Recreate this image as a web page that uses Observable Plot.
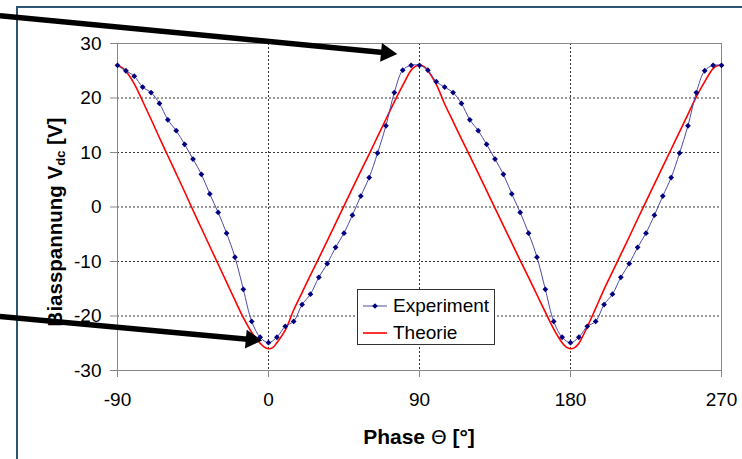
<!DOCTYPE html>
<html><head><meta charset="utf-8">
<script src="https://cdn.jsdelivr.net/npm/d3@7"></script>
<script src="https://cdn.jsdelivr.net/npm/@observablehq/plot@0.6"></script>
<style>
body{margin:0;background:#fff;font-family:"Liberation Sans",Arial,sans-serif}
#wrap{position:relative;width:742px;height:459px;overflow:hidden;background:#fff}
#border{position:absolute;left:16px;top:6px;width:900px;height:600px;border-left:2px solid #2b5572;border-top:2px solid #2b5572}
#chart{position:absolute;left:0;top:0}
#ylab{position:absolute;left:55px;top:222px;transform:translate(-50%,-50%) rotate(-90deg);white-space:nowrap;font-weight:bold;font-size:20.5px;color:#000}
#ylab sub{font-size:13px;vertical-align:-3px;font-weight:bold}
#xlab{position:absolute;left:419px;top:425px;transform:translateX(-50%);white-space:nowrap;font-weight:bold;font-size:21px;color:#000}
#xlab .th{font-weight:normal;font-family:"DejaVu Sans",sans-serif;font-size:20px}
#legend{position:absolute;left:357px;top:289px;width:138px;height:56px;border:1px solid #333;background:#fff;box-sizing:border-box;font-size:19px}
#legend .row{position:absolute;left:5px;height:22px;display:flex;align-items:center}
#legend svg{margin-right:6px}
</style>
</head><body>
<div id="wrap">
  <div id="border"></div>
  <div id="chart"></div>
  <div id="ylab">Biasspannung V<sub>dc</sub> [V]</div>
  <div id="xlab">Phase <span class="th">Θ</span> [°]</div>
  <div id="legend"></div>
</div>
<script>
// ---- data ----
const expPhase = [-90,-85,-80,-75,-70,-65,-60,-55,-50,-45,-40,-35,-30,-25,-20,-15,-10,-5,0,
  5,10,15,20,25,30,35,40,45,50,55,60,65,70,75,80,85,90,
  95,100,105,110,115,120,125,130,135,140,145,150,155,160,165,170,175,180,
  185,190,195,200,205,210,215,220,225,230,235,240,245,250,255,260,265,270];
const expV = [26.0,25.0,24.0,22.0,21.0,19.0,16.0,14.0,11.5,8.8,6.0,2.4,-1.0,-4.8,-9.2,-15.1,-21.0,-23.9,-24.9,
  -23.9,-21.9,-21.0,-17.9,-16.0,-12.9,-10.4,-7.4,-4.8,-1.5,2.0,5.4,9.9,14.9,21.0,25.1,26.0,26.0,
  25.1,23.0,22.0,21.0,19.0,16.0,14.0,11.5,8.8,6.0,2.4,-1.0,-4.8,-9.2,-15.1,-21.0,-23.9,-24.9,
  -23.9,-21.9,-21.0,-17.9,-16.0,-12.9,-10.4,-7.4,-4.8,-1.5,2.0,5.4,9.9,14.9,21.0,25.0,26.0,26.0];

const thPhase = [-90,-87.5,-85,-80,-75,-70,-65,-60,-55,-50,-45,-40,-35,-30,-25,-20,-15,-10,-5,-2.5,0,
  2.5,5,10,15,20,25,30,35,40,45,50,55,60,65,70,75,80,85,87.5,90,
  92.5,95,100,105,110,115,120,125,130,135,140,145,150,155,160,165,170,175,177.5,180,
  182.5,185,190,195,200,205,210,215,220,225,230,235,240,245,250,255,260,265,267.5,270];
const thV = [26.0,25.6,24.9,22.6,19.4,16.1,12.7,9.4,6.1,2.8,-0.6,-3.9,-7.2,-10.5,-13.8,-17.1,-20.3,-23.0,-25.0,-25.7,-26.0,
  -25.8,-24.9,-22.6,-18.9,-15.7,-12.5,-9.4,-6.2,-3.0,0.2,3.4,6.6,9.7,12.9,16.1,19.3,22.3,25.1,25.8,26.0,
  25.8,25.0,22.5,18.9,15.7,12.5,9.4,6.2,3.0,-0.2,-3.4,-6.6,-9.8,-12.9,-16.1,-19.3,-22.4,-24.9,-25.7,-26.0,
  -25.8,-25.0,-22.0,-18.6,-15.1,-11.9,-8.7,-5.5,-2.2,1.0,4.2,7.4,10.6,13.8,17.0,20.2,23.0,25.4,25.9,26.0];

const xTicks = [-90,0,90,180,270];
const yTicks = [-30,-20,-10,0,10,20,30];
const xGridAt = [0,90,180];
const yGridAt = [-20,-10,0,10,20];

// annotation arrows (data coordinates: start -> tip)
const arrowX1 = [-160.1,-160.1];
const arrowY1 = [35.1,-20.1];
const arrowX2 = [76.8,-3.8];
const arrowY2 = [28.1,-24.5];

const seriesNames = ["Experiment","Theorie"];

// ---- tables ----
const exp = expPhase.map((p,i)=>({p, v: expV[i]}));
const th = thPhase.map((p,i)=>({p, v: thV[i]}));
const arrows = arrowX1.map((x1,i)=>({x1, y1: arrowY1[i], x2: arrowX2[i], y2: arrowY2[i]}));

const blue = "#4b4ba8", navy = "#000080", red = "#ff0000";

const chart = Plot.plot({
  width: 742, height: 459,
  marginLeft: 117, marginRight: 21, marginTop: 43, marginBottom: 89,
  style: {background: "transparent", fontFamily: "'Liberation Sans', Arial, sans-serif", fontSize: "19px", color: "#000"},
  x: {domain: [-90, 270]},
  y: {domain: [-30, 30]},
  marks: [
    Plot.gridX(xGridAt, {stroke: "#000", strokeOpacity: 0.8, strokeDasharray: "2,2"}),
    Plot.gridY(yGridAt, {stroke: "#000", strokeOpacity: 0.8, strokeDasharray: "2,2"}),
    Plot.frame({stroke: "#888"}),
    Plot.axisX({ticks: xTicks, tickSize: 7, tickPadding: 15, label: null, stroke: "#888", fill: "#000", tickFormat: d => String(d)}),
    Plot.axisY({ticks: yTicks, tickSize: 7, tickPadding: 9, label: null, stroke: "#888", fill: "#000", tickFormat: d => String(d)}),
    Plot.line(th, {x: "p", y: "v", stroke: red, strokeWidth: 1.6, curve: "catmull-rom"}),
    Plot.line(exp, {x: "p", y: "v", stroke: blue, strokeWidth: 1, curve: "catmull-rom"}),
    Plot.dot(exp, {x: "p", y: "v", symbol: "diamond2", r: 2.6, fill: navy, stroke: "none"}),
    Plot.arrow(arrows, {x1: "x1", y1: "y1", x2: "x2", y2: "y2", stroke: "#000", strokeWidth: 5.5, headLength: 0, insetEnd: 9, strokeLinecap: "butt"}),
    Plot.dot(arrows, {x: "x2", y: "y2", symbol: "triangle", r: 7, fill: "#000", stroke: "none", rotate: 95.4, dx: -10.9, dy: -1})
  ]
});
document.getElementById("chart").appendChild(chart);

// legend
const leg = document.getElementById("legend");
seriesNames.forEach((name, i) => {
  const row = document.createElement("div");
  row.className = "row";
  row.style.top = (i === 0 ? 5 : 32) + "px";
  const sw = i === 0
    ? `<svg width="24" height="10"><line x1="0" y1="5" x2="24" y2="5" stroke="${blue}" stroke-width="1"/><path d="M12 2.2 L14.8 5 L12 7.8 L9.2 5Z" fill="${navy}"/></svg>`
    : `<svg width="24" height="10"><line x1="0" y1="5" x2="24" y2="5" stroke="${red}" stroke-width="1.6"/></svg>`;
  row.innerHTML = sw + `<span>${name}</span>`;
  leg.appendChild(row);
});
</script>
</body></html>
